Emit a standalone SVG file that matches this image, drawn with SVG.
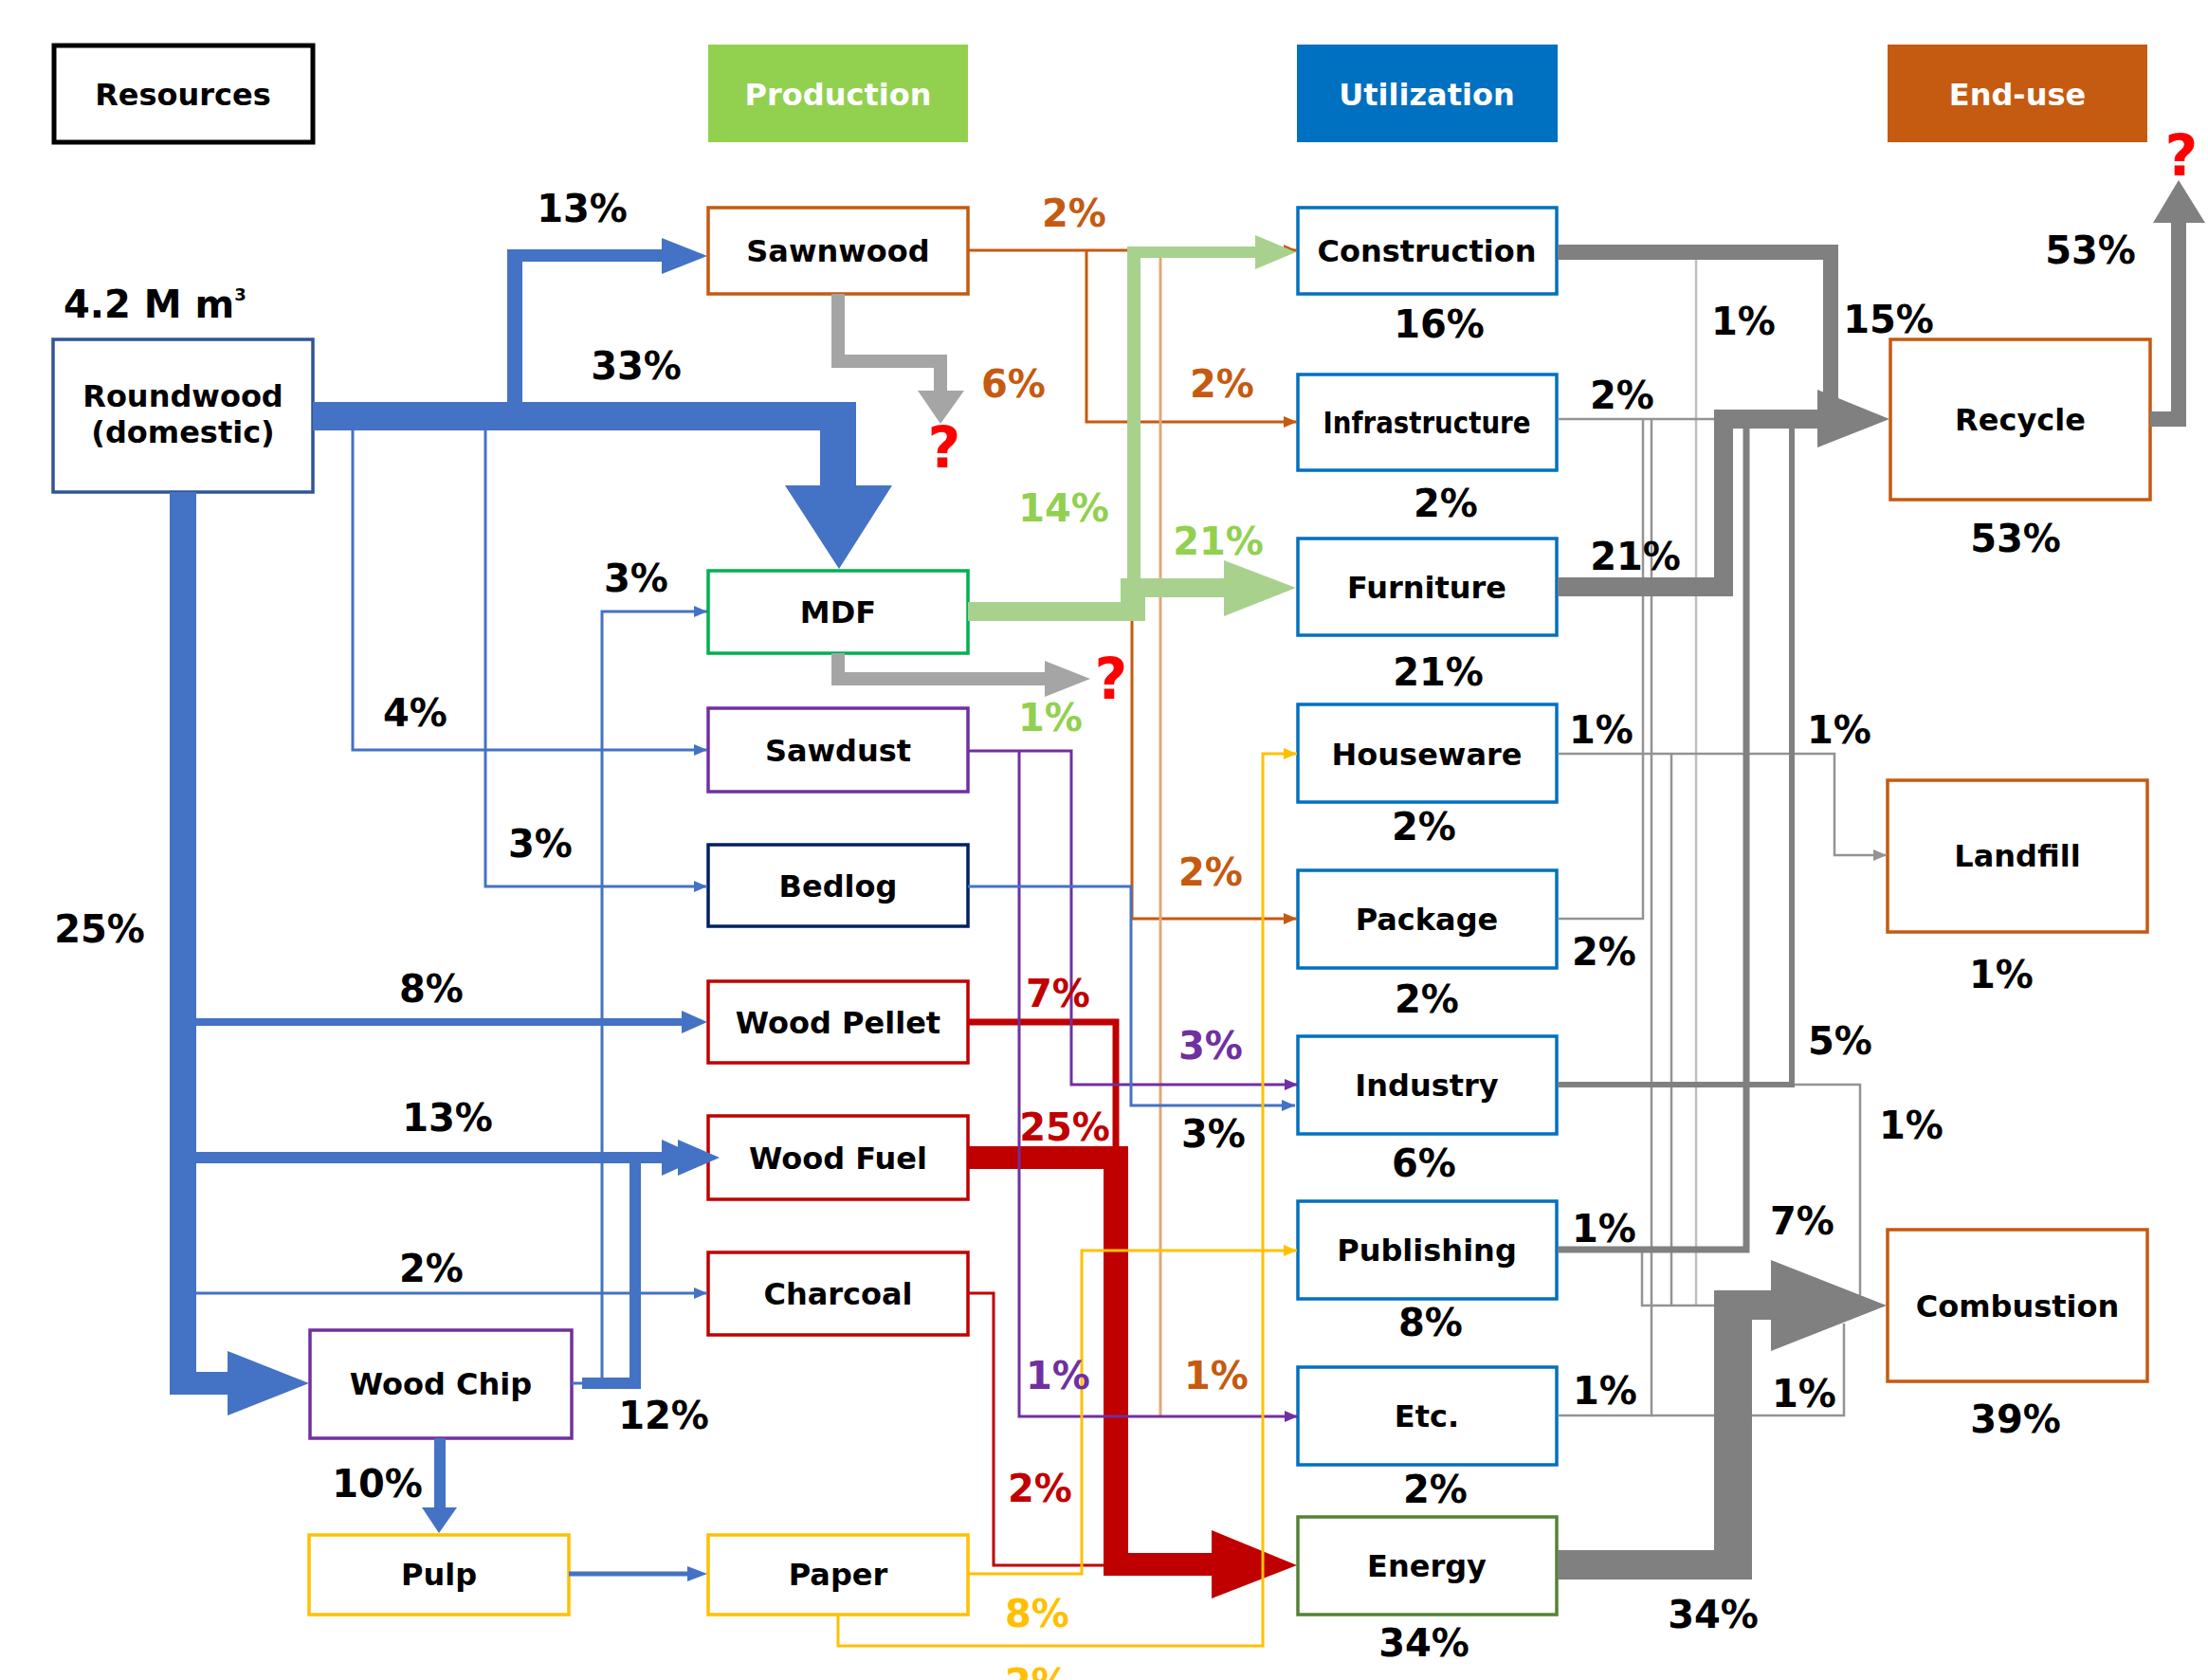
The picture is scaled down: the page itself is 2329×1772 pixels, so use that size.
<svg xmlns="http://www.w3.org/2000/svg" width="2329" height="1772" viewBox="0 0 2329 1772">
<style>
.t{font-family:"DejaVu Sans",Verdana,"Liberation Sans",sans-serif;font-weight:bold;}
.n{font-size:32px;text-anchor:middle;fill:#000;}
.h{font-size:32px;text-anchor:middle;fill:#fff;}
.p{font-size:40px;text-anchor:middle;fill:#000;}
.q{font-size:60px;text-anchor:middle;fill:#FF0000;}
.box{fill:#fff;stroke-width:3.5;}
.thin{fill:none;stroke-width:3;}
.g{fill:none;stroke:#939393;stroke-width:2.5;}
</style>
<defs>
<marker id="aB" markerUnits="userSpaceOnUse" markerWidth="14" markerHeight="14" refX="14" refY="7" orient="auto"><path d="M0,1 L14,7 L0,13z" fill="#4472C4"/></marker>
<marker id="aO" markerUnits="userSpaceOnUse" markerWidth="14" markerHeight="14" refX="14" refY="7" orient="auto"><path d="M0,1 L14,7 L0,13z" fill="#C55A11"/></marker>
<marker id="aP" markerUnits="userSpaceOnUse" markerWidth="14" markerHeight="14" refX="14" refY="7" orient="auto"><path d="M0,1 L14,7 L0,13z" fill="#7030A0"/></marker>
<marker id="aY" markerUnits="userSpaceOnUse" markerWidth="14" markerHeight="14" refX="14" refY="7" orient="auto"><path d="M0,1 L14,7 L0,13z" fill="#FFC000"/></marker>
<marker id="aG" markerUnits="userSpaceOnUse" markerWidth="14" markerHeight="14" refX="14" refY="7" orient="auto"><path d="M0,1 L14,7 L0,13z" fill="#939393"/></marker>
</defs>
<rect width="2329" height="1772" fill="#fff"/>

<g id="headers">
<g id="hdr-resources"><rect x="57" y="48" width="273" height="102" fill="#fff" stroke="#000" stroke-width="5"/><text class="t h" x="193" y="111" style="fill:#000">Resources</text></g>
<g id="hdr-production"><rect x="747" y="47" width="274" height="103" fill="#92D050"/><text class="t h" x="884" y="111">Production</text></g>
<g id="hdr-utilization"><rect x="1368" y="47" width="275" height="103" fill="#0070C0"/><text class="t h" x="1505" y="111">Utilization</text></g>
<g id="hdr-enduse"><rect x="1991" y="47" width="274" height="103" fill="#C55A11"/><text class="t h" x="2128" y="111">End-use</text></g>
</g>

<g id="nodes">
<g id="roundwood"><rect class="box" x="56" y="358" width="274" height="161" stroke="#2F5597"/><text class="t n" x="193" y="429">Roundwood</text><text class="t n" x="193" y="467">(domestic)</text></g>
<g id="sawnwood"><rect class="box" x="747" y="219" width="274" height="91" stroke="#C55A11"/><text class="t n" x="884" y="276">Sawnwood</text></g>
<g id="mdf"><rect class="box" x="747" y="602" width="274" height="87" stroke="#00B050"/><text class="t n" x="884" y="657">MDF</text></g>
<g id="sawdust"><rect class="box" x="747" y="747" width="274" height="88" stroke="#7030A0"/><text class="t n" x="884" y="803">Sawdust</text></g>
<g id="bedlog"><rect class="box" x="747" y="891" width="274" height="86" stroke="#002060"/><text class="t n" x="884" y="946">Bedlog</text></g>
<g id="woodpellet"><rect class="box" x="747" y="1035" width="274" height="86" stroke="#C00000"/><text class="t n" x="884" y="1090">Wood Pellet</text></g>
<g id="woodfuel"><rect class="box" x="747" y="1177" width="274" height="88" stroke="#C00000"/><text class="t n" x="884" y="1233">Wood Fuel</text></g>
<g id="charcoal"><rect class="box" x="747" y="1321" width="274" height="87" stroke="#C00000"/><text class="t n" x="884" y="1376">Charcoal</text></g>
<g id="paper"><rect class="box" x="747" y="1619" width="274" height="84" stroke="#FFC000"/><text class="t n" x="884" y="1672">Paper</text></g>
<g id="woodchip"><rect class="box" x="327" y="1403" width="276" height="114" stroke="#7030A0"/><text class="t n" x="465" y="1471">Wood Chip</text></g>
<g id="pulp"><rect class="box" x="326" y="1619" width="274" height="84" stroke="#FFC000"/><text class="t n" x="463" y="1672">Pulp</text></g>

<g id="construction"><rect class="box" x="1369" y="219" width="273" height="91" stroke="#0070C0"/><text class="t n" x="1505" y="276">Construction</text></g>
<g id="infrastructure"><rect class="box" x="1369" y="395" width="273" height="101" stroke="#0070C0"/><text class="t n" x="1505" y="457" textLength="219" lengthAdjust="spacingAndGlyphs">Infrastructure</text></g>
<g id="furniture"><rect class="box" x="1369" y="568" width="273" height="102" stroke="#0070C0"/><text class="t n" x="1505" y="631">Furniture</text></g>
<g id="houseware"><rect class="box" x="1369" y="743" width="273" height="103" stroke="#0070C0"/><text class="t n" x="1505" y="807">Houseware</text></g>
<g id="package"><rect class="box" x="1369" y="918" width="273" height="103" stroke="#0070C0"/><text class="t n" x="1505" y="981">Package</text></g>
<g id="industry"><rect class="box" x="1369" y="1093" width="273" height="103" stroke="#0070C0"/><text class="t n" x="1505" y="1156">Industry</text></g>
<g id="publishing"><rect class="box" x="1369" y="1267" width="273" height="103" stroke="#0070C0"/><text class="t n" x="1505" y="1330">Publishing</text></g>
<g id="etc"><rect class="box" x="1369" y="1442" width="273" height="103" stroke="#0070C0"/><text class="t n" x="1505" y="1505">Etc.</text></g>
<g id="energy"><rect class="box" x="1369" y="1600" width="273" height="103" stroke="#548235"/><text class="t n" x="1505" y="1663">Energy</text></g>

<g id="recycle"><rect class="box" x="1994" y="358" width="274" height="169" stroke="#C55A11"/><text class="t n" x="2131" y="454">Recycle</text></g>
<g id="landfill"><rect class="box" x="1991" y="823" width="274" height="160" stroke="#C55A11"/><text class="t n" x="2128" y="914">Landfill</text></g>
<g id="combustion"><rect class="box" x="1991" y="1297" width="274" height="160" stroke="#C55A11"/><text class="t n" x="2128" y="1389">Combustion</text></g>
</g>

<g id="connectors">
<!-- blue from roundwood -->
<path d="M330,424 H903 V512 H941 L885,600 L828,512 H865 V454 H330 Z" fill="#4472C4"/>
<path d="M535,430 V263 H698 V251 L746,270 L698,289 V276 H551 V430 Z" fill="#4472C4"/>
<path d="M179,519 V1471 H240 V1493 L326,1459 L240,1425 V1447 H207 V519 Z" fill="#4472C4"/>
<path d="M372,450 V791 H746" class="thin" stroke="#4472C4" marker-end="url(#aB)"/>
<path d="M512,450 V935 H746" class="thin" stroke="#4472C4" stroke-width="2.5" marker-end="url(#aB)"/>
<path d="M207,1078 H722" fill="none" stroke="#4472C4" stroke-width="8"/>
<polygon points="719,1066 746,1078 719,1090" fill="#4472C4"/>
<path d="M207,1221 H702" fill="none" stroke="#4472C4" stroke-width="12"/>
<polygon points="698,1202 740,1221 698,1240" fill="#4472C4"/>
<polygon points="715,1202 759,1221 715,1240" fill="#4472C4"/>
<path d="M207,1364 H746" class="thin" stroke="#4472C4" stroke-width="2.5" marker-end="url(#aB)"/>
<path d="M603,1459 H616" fill="none" stroke="#4472C4" stroke-width="3"/>
<path d="M614,1459 H670 V1226" fill="none" stroke="#4472C4" stroke-width="12"/>
<path d="M635,1454 V645 H746" class="thin" stroke="#4472C4" stroke-width="2.5" marker-end="url(#aB)"/>
<path d="M464,1517 V1593" fill="none" stroke="#4472C4" stroke-width="12"/>
<polygon points="445,1590 482,1590 463,1617" fill="#4472C4"/>
<path d="M600,1660 H727" fill="none" stroke="#4472C4" stroke-width="5"/>
<polygon points="725,1652 746,1660 725,1668" fill="#4472C4"/>

<!-- gray unknown outputs -->
<path d="M884,310 V381 H992 V415" fill="none" stroke="#A5A5A5" stroke-width="14"/>
<polygon points="968,412 992,447 1017,412" fill="#A5A5A5"/>
<path d="M884,689 V716 H1104" fill="none" stroke="#A5A5A5" stroke-width="14"/>
<polygon points="1102,697 1150,716 1102,735" fill="#A5A5A5"/>

<!-- orange from sawnwood -->
<path d="M1021,264 H1368" class="thin" stroke="#C55A11" stroke-width="2.5" marker-end="url(#aO)"/>
<path d="M1146,264 V445 H1368" class="thin" stroke="#C55A11" stroke-width="2.5" marker-end="url(#aO)"/>
<path d="M1194,264 V969 H1368" class="thin" stroke="#C55A11" stroke-width="2.5" marker-end="url(#aO)"/>
<path d="M1224,264 V1494" class="thin" stroke="#E2A878" stroke-width="2.5"/>

<!-- red -->
<path d="M1021,1209 H1190 V1638 H1278 V1614 L1368,1651 L1278,1686 V1662 H1164 V1233 H1021 Z" fill="#C00000"/>
<path d="M1021,1078 H1177 V1212" fill="none" stroke="#C00000" stroke-width="7"/>
<path d="M1021,1364 H1048 V1651 H1165" class="thin" stroke="#C00000" stroke-width="2.5"/>

<!-- purple from sawdust -->
<path d="M1021,792 H1130 V1144 H1369" class="thin" stroke="#7030A0" marker-end="url(#aP)"/>
<path d="M1075,792 V1494 H1369" class="thin" stroke="#7030A0" marker-end="url(#aP)"/>

<!-- bedlog -->
<path d="M1021,935 H1193 V1166 H1366" class="thin" stroke="#4472C4" stroke-width="2.5" marker-end="url(#aB)"/>

<!-- yellow from paper -->
<path d="M1021,1660 H1141 V1319 H1368" class="thin" stroke="#FFC000" marker-end="url(#aY)"/>
<path d="M884,1703 V1736 H1332 V795 H1368" class="thin" stroke="#FFC000" marker-end="url(#aY)"/>

<!-- green from MDF -->
<g fill="#A9D18E">
<rect x="1021" y="635" width="187" height="20"/>
<rect x="1182" y="610" width="26" height="45"/>
<rect x="1189" y="260" width="14" height="352"/>
<rect x="1189" y="260" width="140" height="12"/>
<polygon points="1324,248 1367,266 1324,284"/>
<rect x="1182" y="610" width="113" height="20"/>
<polygon points="1291,591 1367,620 1291,650"/>
</g>

<!-- gray utilization to end-use -->
<path d="M1789,272 V1377" fill="none" stroke="#BFBFBF" stroke-width="2.5"/>
<path class="g" d="M1643,442 H1810"/>
<path class="g" d="M1643,969 H1733 V442"/>
<path class="g" d="M1643,1493 H1742 V442"/>
<path class="g" d="M1742,1493 H1945 V1396"/>
<path class="g" d="M1643,795 H1935 V902 H1990" marker-end="url(#aG)"/>
<path class="g" d="M1763,795 V1377"/>
<path class="g" d="M1890,1144 H1962 V1366"/>
<path class="g" d="M1732,1318 V1377 H1812"/>
<path d="M1643,1144 H1890 V451" fill="none" stroke="#808080" stroke-width="6"/>
<path d="M1643,1318 H1842 V451" fill="none" stroke="#808080" stroke-width="7"/>
<path d="M1643,266 H1931 V436" fill="none" stroke="#808080" stroke-width="16"/>
<path d="M1643,619 H1818 V442 H1920" fill="none" stroke="#808080" stroke-width="20"/>
<polygon points="1917,411 1993,442 1917,472" fill="#808080"/>
<path d="M1643,1635 H1808 V1361 H1868 V1329 L1990,1377 L1868,1425 V1392 H1848 V1666 H1643 Z" fill="#808080"/>
<path d="M2268,442 H2298 V230" fill="none" stroke="#808080" stroke-width="16"/>
<polygon points="2271,235 2298,190 2326,235" fill="#808080"/>
</g>

<g id="labels" class="t">
<text class="t" x="67" y="335" font-size="40">4.2 M m<tspan font-size="18" dy="-18">3</tspan></text>
<text class="t p" x="614" y="234">13%</text>
<text class="t p" x="671" y="400">33%</text>
<text class="t p" x="671" y="624">3%</text>
<text class="t p" x="438" y="766">4%</text>
<text class="t p" x="570" y="904">3%</text>
<text class="t p" x="105" y="994">25%</text>
<text class="t p" x="455" y="1057">8%</text>
<text class="t p" x="472" y="1193">13%</text>
<text class="t p" x="455" y="1352">2%</text>
<text class="t p" x="700" y="1507">12%</text>
<text class="t p" x="398" y="1579">10%</text>

<text class="t p" x="1133" y="239" style="fill:#C55A11">2%</text>
<text class="t p" x="1069" y="419" style="fill:#C55A11">6%</text>
<text class="t p" x="1289" y="419" style="fill:#C55A11">2%</text>
<text class="t p" x="1122" y="550" style="fill:#92D050">14%</text>
<text class="t p" x="1285" y="585" style="fill:#92D050">21%</text>
<text class="t p" x="1108" y="771" style="fill:#92D050">1%</text>
<text class="t p" x="1277" y="934" style="fill:#C55A11">2%</text>
<text class="t p" x="1116" y="1062" style="fill:#C00000">7%</text>
<text class="t p" x="1277" y="1117" style="fill:#7030A0">3%</text>
<text class="t p" x="1123" y="1203" style="fill:#C00000">25%</text>
<text class="t p" x="1280" y="1210">3%</text>
<text class="t p" x="1116" y="1465" style="fill:#7030A0">1%</text>
<text class="t p" x="1283" y="1465" style="fill:#C55A11">1%</text>
<text class="t p" x="1097" y="1584" style="fill:#C00000">2%</text>
<text class="t p" x="1094" y="1716" style="fill:#FFC000">8%</text>
<text class="t p" x="1094" y="1789" style="fill:#FFC000">2%</text>

<text class="t p" x="1518" y="356">16%</text>
<text class="t p" x="1525" y="545">2%</text>
<text class="t p" x="1517" y="723">21%</text>
<text class="t p" x="1502" y="886">2%</text>
<text class="t p" x="1505" y="1068">2%</text>
<text class="t p" x="1502" y="1241">6%</text>
<text class="t p" x="1509" y="1409">8%</text>
<text class="t p" x="1514" y="1585">2%</text>
<text class="t p" x="1502" y="1747">34%</text>

<text class="t p" x="1839" y="353">1%</text>
<text class="t p" x="1992" y="351">15%</text>
<text class="t p" x="2205" y="278">53%</text>
<text class="t p" x="2126" y="582">53%</text>
<text class="t p" x="1711" y="431">2%</text>
<text class="t p" x="1725" y="601">21%</text>
<text class="t p" x="1689" y="784">1%</text>
<text class="t p" x="1940" y="784">1%</text>
<text class="t p" x="2111" y="1042">1%</text>
<text class="t p" x="1692" y="1018">2%</text>
<text class="t p" x="1941" y="1112">5%</text>
<text class="t p" x="2016" y="1201">1%</text>
<text class="t p" x="1692" y="1310">1%</text>
<text class="t p" x="1901" y="1302">7%</text>
<text class="t p" x="1693" y="1481">1%</text>
<text class="t p" x="1903" y="1484">1%</text>
<text class="t p" x="1807" y="1717">34%</text>
<text class="t p" x="2126" y="1511">39%</text>

<text class="t q" x="996" y="493">?</text>
<text class="t q" x="1172" y="737">?</text>
<text class="t q" x="2301" y="185">?</text>
</g>
</svg>
